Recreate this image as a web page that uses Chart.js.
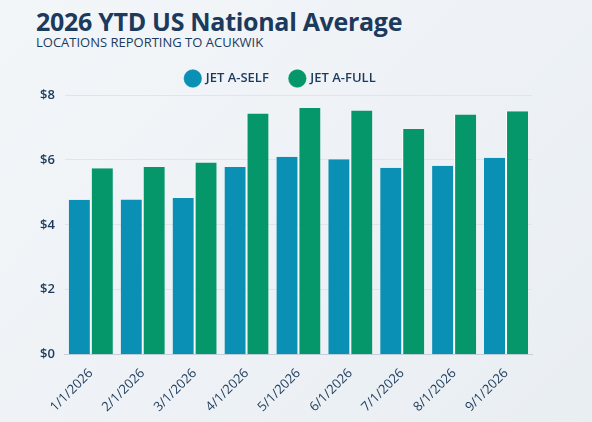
<!DOCTYPE html><html><head><script src="https://cdn.jsdelivr.net/npm/chart.js@4"></script>
<style>html,body{margin:0;width:592px;height:422px;background:linear-gradient(135deg,#f3f6f9,#e9eef3);overflow:hidden}
#t{position:absolute;left:36px;top:4px;font:bold 25px "Open Sans";color:#1b3a5c;letter-spacing:-0.3px}
#s{position:absolute;left:36px;top:33px;font:13px "Open Sans";color:#1b3a5c}
#w{position:absolute;left:0;top:50px;width:592px;height:372px}</style></head><body>
<div id="t">2026 YTD US National Average</div><div id="s">LOCATIONS REPORTING TO ACUKWIK</div>
<div id="w"><canvas id="c"></canvas></div>
<script>
const categories=["1/1/2026","2/1/2026","3/1/2026","4/1/2026","5/1/2026","6/1/2026","7/1/2026","8/1/2026","9/1/2026"];
const jetASelf=[4.77,4.78,4.83,5.78,6.10,6.02,5.76,5.82,6.07];
const jetAFull=[5.74,5.78,5.92,7.43,7.60,7.52,6.95,7.40,7.50];
const yTicks=[0,2,4,6,8];
new Chart(document.getElementById('c'),{type:'bar',data:{labels:categories,datasets:[
{label:'JET A-SELF',data:jetASelf,backgroundColor:'#0a8fb5',borderColor:'#ffffff',borderWidth:{left:0,right:1,top:0,bottom:0},categoryPercentage:0.85,barPercentage:1},
{label:'JET A-FULL',data:jetAFull,backgroundColor:'#05976a',borderColor:'#ffffff',borderWidth:{left:1,right:0,top:0,bottom:0},categoryPercentage:0.85,barPercentage:1}]},
options:{responsive:true,maintainAspectRatio:false,animation:false,layout:{padding:{left:30,right:60,top:0,bottom:4}},
plugins:{legend:{labels:{usePointStyle:true,pointStyle:'circle',boxWidth:13,boxHeight:13,padding:22,color:'#1b3a5c',font:{family:'Open Sans',size:13,weight:'600'}}},tooltip:{enabled:false}},
scales:{x:{grid:{display:false},border:{color:'#c5d0da'},ticks:{color:'#1b3a5c',maxRotation:45,minRotation:45,font:{family:'Open Sans',size:13}}},
y:{min:0,max:8,afterBuildTicks:a=>{a.ticks=yTicks.map(v=>({value:v}))},grid:{color:'#dfe5ea',drawTicks:false},border:{display:false},ticks:{padding:10,color:'#1b3a5c',font:{family:'Open Sans',size:13,weight:'600'},callback:v=>'$'+v}}}}});
</script></body></html>
